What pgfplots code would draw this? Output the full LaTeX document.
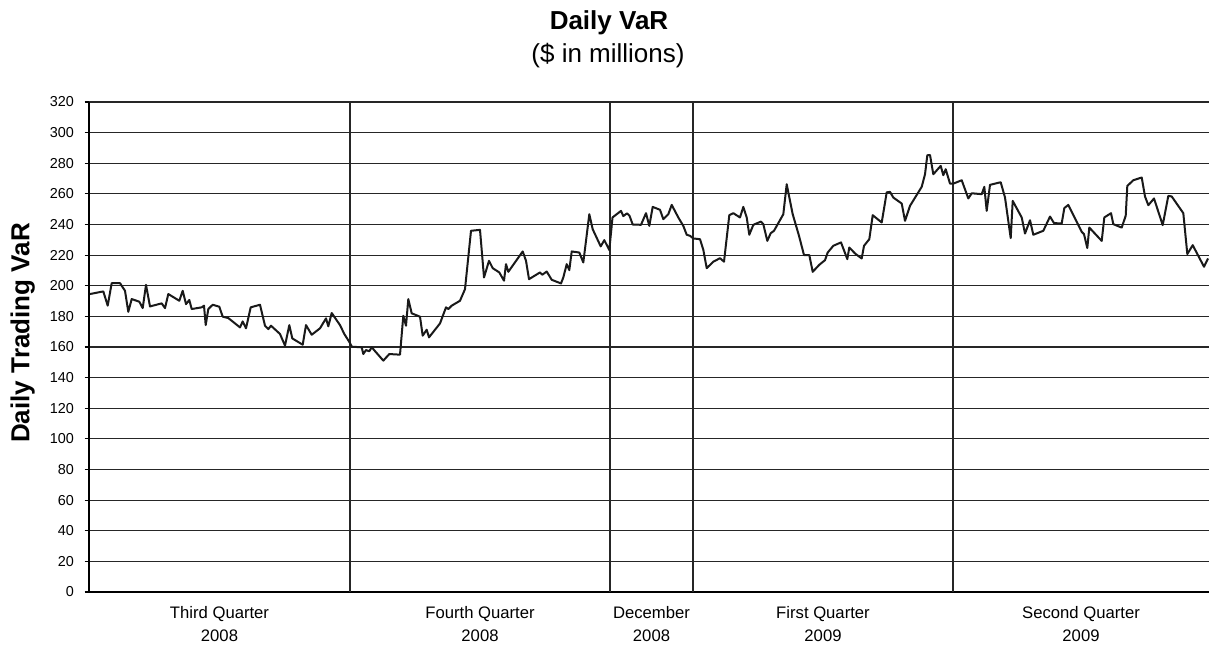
\documentclass[border=0pt]{standalone}
\usepackage{fontspec}
\setmainfont{Liberation Sans}
\usepackage{pgfplots}
\pgfplotsset{compat=1.18}
\begin{document}
\begin{tikzpicture}
\begin{axis}[
  at={(0pt,0pt)}, anchor=south west,
  scale only axis, width=840pt, height=367.5pt,
  xmin=89, xmax=1209, ymin=0, ymax=320,
  axis x line*=bottom, axis y line*=left,
  axis line style={black, line width=1pt},
  ytick={0,20,...,320},
  ymajorgrids,
  grid style={black!85, line width=0.9pt},
  y tick style={black, line width=0.9pt},
  tick align=outside,
  major tick length=3.3pt,
  yticklabel style={font=\fontsize{10.8}{12}\selectfont, xshift=-4.5pt},
  /pgf/number format/assume math mode=true,
  xtick={219.5,480,651.5,823,1081},
  xticklabels={{Third Quarter\\2008},{Fourth Quarter\\2008},{December\\2008},{First Quarter\\2009},{Second Quarter\\2009}},
  xticklabel style={align=center, font=\fontsize{12.5}{17.5}\selectfont, yshift=-4pt},
  x tick style={draw=none},
  extra x ticks={350,610,693,953},
  extra x tick labels={},
  extra x tick style={grid=major, major tick length=0pt},
]
\addplot[black!90, line width=1.5pt, line join=round] table {
90 194.6
103.3 196.3
107.7 187
111.7 201.7
120 201.7
125 196.7
128.3 183
131.7 191.3
139.3 189.6
142.7 185.4
146 200.6
150 186.5
161.7 188.5
165 185.4
168.3 194.6
179.3 190.2
182.7 196.7
186 188
189.3 190.7
191.7 184.8
201.7 185.9
204 187
205.7 174.3
208.3 184.8
212.7 187.6
219.3 186.3
222.7 179.8
228.3 178.9
240 172.8
242.7 176.7
246 172.2
250.7 185.9
260 187.6
265 173.9
268.3 171.7
271 173.9
280 168.5
285 160.9
289.3 174.3
292.3 165.6
302.7 161.5
306 174.3
311.7 168
320 172.2
326 178.7
328.3 173.5
331.7 182.2
340 174.3
344.3 168.5
350 162.6
351.7 160.2
361.7 159.8
363.3 155.4
366 158
369.3 157.2
371.7 159.8
383.3 151.1
389.3 155.4
400 155
403.3 180.4
406 173.9
408.3 191.3
411.7 182
420 179.8
422.7 167.4
426.7 171.3
429 166.3
440 175.4
446 185.9
448.3 184.8
451.7 187
460 190.2
465 197.8
471 235.9
480 236.5
484 205.4
489 216.3
492.7 211.5
499.3 208.7
504 203.3
506 214.1
508.3 209.1
522.7 222.4
526 216.3
529 204.3
540 208.7
542.3 207.2
546.7 209.3
551.7 203.9
561 201.5
563.3 205.4
566.7 214.1
569.3 210.2
571.7 222.4
579.3 221.7
583.3 215.2
589.3 246.7
592.7 236.9
600.7 225.7
604.3 229.8
609.3 223.3
612.5 244.6
621 248.9
623.3 245.5
627 247.3
629.5 245.7
632.7 240
641 239.8
646 247.4
649.3 239.1
652.7 251.5
660 249.6
663.3 243.5
668.3 246.7
671.7 252.8
678.3 244.6
683.3 239.1
686.7 233.3
690 232.6
693.3 230.9
700 230.4
703.3 223.5
706.7 211.5
713.3 215.7
720 218
724 215.7
729.3 246.1
733.3 247.4
740 244.6
743.3 251.5
746.7 244.6
749.3 233.3
753.3 239.8
761 241.9
763.3 240.2
767.3 229.3
770.7 234.3
774 235.9
783.3 246.7
786.7 266.3
792.7 246.7
799 232.6
804 220
809.3 220
812.7 209.1
819.3 213.7
825 216.7
827.7 221.7
833.3 226.1
841 228.3
847.3 217.4
849.3 225
855 221.1
861.7 217.8
864 226.1
869.3 230.4
872.7 246.1
881.7 241.3
886.7 261
890 261.3
893.3 257.6
901.7 253.7
905 242.4
910 252.2
921.7 264.6
925 272.8
927.3 285.2
930 285.4
933.3 272.8
940.7 278.3
943.3 272.2
945.7 276.1
950 266.7
953.3 266.7
961.7 268.9
968.3 257
971.7 260.4
981.7 259.8
984.3 264.6
986.7 248.9
990 265.9
1000.7 267.6
1005 257.6
1010.7 231.1
1012.7 255.4
1021.7 244.6
1025 234.1
1030 242.8
1033.3 233.3
1043.3 235.9
1050 245.2
1054 240.9
1061.7 240.7
1064.3 250.7
1068.3 252.8
1081.7 235.2
1084 233.7
1087.3 224.6
1089.3 238
1101.7 229.3
1104.3 244.6
1111 247.4
1113.3 240.2
1121.7 238
1125.7 245.7
1127.3 265.2
1133.3 268.9
1141.7 270.7
1145 258.3
1148.3 252.6
1154 257
1162.7 239.6
1168.3 258.7
1171.7 258.3
1183.3 247.4
1187.3 220.7
1192.7 226.5
1204 212.4
1208 217.8
};
\end{axis}
\node[anchor=base, font=\fontsize{19.5}{22}\selectfont\bfseries] at (390pt,422pt) {Daily VaR};
\node[anchor=base, font=\fontsize{19.5}{22}\selectfont] at (389.25pt,397.3pt) {(\$ in millions)};
\node[rotate=90, anchor=base, font=\fontsize{19.5}{22}\selectfont\bfseries] at (-44.8pt,194.25pt) {Daily Trading VaR};
\pgfresetboundingbox
\path (-66.75pt,-39pt) rectangle (840pt,444pt);
\end{tikzpicture}
\end{document}
